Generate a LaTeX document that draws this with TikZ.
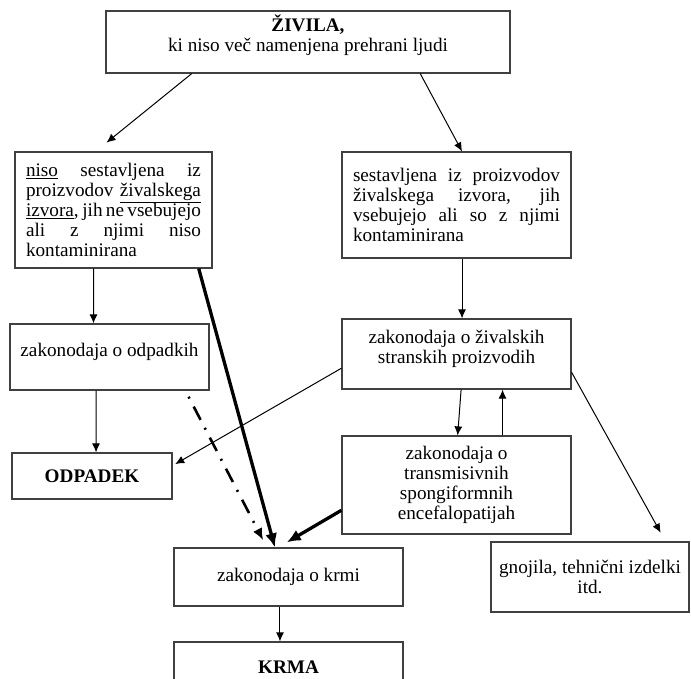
\documentclass[tikz,border=0pt]{standalone}
\usepackage{fontspec}
\setmainfont{Liberation Serif}
\usetikzlibrary{arrows.meta,calc}
\tikzset{
  box/.style={draw=black!75, line width=1.2pt, inner sep=3pt, align=center, font=\fontsize{19.2}{20}\selectfont},
  arr/.style={-{Latex[length=9pt,width=8pt]}, line width=1pt},
  thickarr/.style={-{Latex[length=14pt,width=12pt]}, line width=3.3pt},
  dasharr/.style={-{Latex[length=12pt,width=10pt]}, line width=2.6pt, dash pattern=on 2pt off 9pt on 15pt off 9pt}
}
\begin{document}
\begin{tikzpicture}[x=1pt,y=-1pt]
\useasboundingbox (0,0) rectangle (691,679);
\clip (0,0) rectangle (691,679);
\node (Z) [box, minimum width=404pt, minimum height=62pt, text depth=18pt] at (308,42) {\textbf{ŽIVILA,}\\ ki niso več namenjena prehrani ljudi};
\node (N) [box, align=justify, text width=175pt, minimum width=197pt, minimum height=116pt] at (113.5,210) {\underline{niso} sestavljena iz\linebreak proizvodov \underline{živalskega}\linebreak \underline{izvora}, jih ne vsebujejo\linebreak ali z njimi niso\linebreak kontaminirana};
\node (S) [box, align=justify, text width=207pt, minimum width=229pt, minimum height=106pt] at (456.5,205) {sestavljena iz proizvodov\linebreak živalskega izvora, jih\linebreak vsebujejo ali so z njimi\linebreak kontaminirana};
\node (OZ) [box, minimum width=199pt, minimum height=66pt, text depth=14pt] at (109.5,357) {zakonodaja o odpadkih};
\node (ZS) [box, minimum width=229pt, minimum height=70pt, text depth=14pt] at (456.5,354) {zakonodaja o živalskih\\stranskih proizvodih};
\node (O) [box, minimum width=160pt, minimum height=46pt] at (92,476) {\textbf{ODPADEK}};
\node (T) [box, minimum width=229pt, minimum height=98pt] at (456.5,485) {zakonodaja o\\transmisivnih\\spongiformnih\\encefalopatijah};
\node (G) [box, minimum width=198pt, minimum height=70pt] at (590,577) {gnojila, tehnični izdelki\\itd.};
\node (KZ) [box, minimum width=229pt, minimum height=58pt] at (288.5,577) {zakonodaja o krmi};
\node (K) [box, minimum width=229pt, minimum height=50pt] at (288.5,667) {\textbf{KRMA}};
\path[arr, shorten >=14pt] ($(Z.south west)!0.213!(Z.south east)$) edge ($(N.north west)!0.41!(N.north east)$);
\path[arr] ($(Z.south west)!0.777!(Z.south east)$) edge ($(S.north west)!0.524!(S.north east)$);
\path[arr] ($(N.south west)!0.40!(N.south east)$) edge ($(OZ.north west)!0.42!(OZ.north east)$);
\path[thickarr] ($(N.south west)!0.93!(N.south east)$) edge ($(KZ.north west)!0.441!(KZ.north east)$);
\path[dasharr, shorten <=7pt, shorten >=8pt] ($(OZ.south west)!0.879!(OZ.south east)$) edge ($(KZ.north west)!0.406!(KZ.north east)$);
\path[arr] ($(OZ.south west)!0.433!(OZ.south east)$) edge ($(O.north west)!0.525!(O.north east)$);
\path[arr, shorten >=3pt] ($(ZS.north west)!0.7!(ZS.south west)$) edge ($(O.north east)!0.28!(O.south east)$);
\path[arr] ($(S.south west)!0.524!(S.south east)$) edge ($(ZS.north west)!0.524!(ZS.north east)$);
\path[arr] ($(ZS.south west)!0.52!(ZS.south east)$) edge ($(T.north west)!0.505!(T.north east)$);
\path[arr] ($(T.north west)!0.7!(T.north east)$) edge ($(ZS.south west)!0.7!(ZS.south east)$);
\path[arr, shorten >=10pt] ($(ZS.north east)!0.757!(ZS.south east)$) edge ($(G.north west)!0.879!(G.north east)$);
\path[thickarr, shorten >=10pt] ($(T.north west)!0.755!(T.south west)$) edge ($(KZ.north west)!0.455!(KZ.north east)$);
\path[arr] ($(KZ.south west)!0.463!(KZ.south east)$) edge ($(K.north west)!0.463!(K.north east)$);
\end{tikzpicture}
\end{document}
